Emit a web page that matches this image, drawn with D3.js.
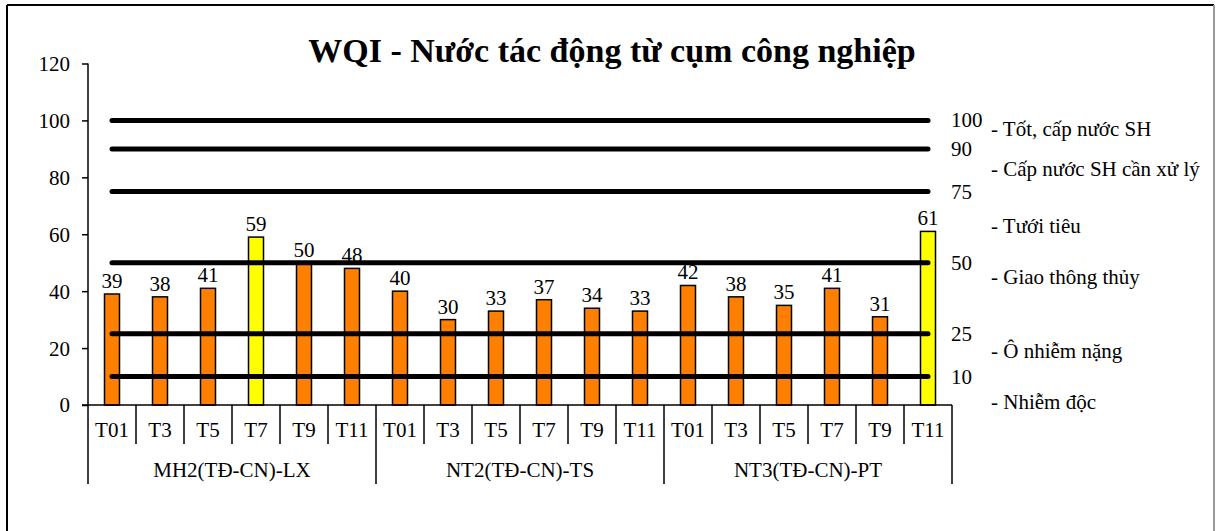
<!doctype html>
<html>
<head>
    <meta charset="utf-8">
    <title>WQI</title>
    <script src="https://d3js.org/d3.v7.min.js"></script>
    <style>
        body { margin: 0; background: #fff; }
        svg text { font-family: "Liberation Serif", "Times New Roman", serif !important; fill: #000; }
    </style>
</head>
<body>
<svg width="1216" height="531"></svg>
<script>

    // data
    var groups = ["MH2(TĐ-CN)-LX", "NT2(TĐ-CN)-TS", "NT3(TĐ-CN)-PT"];
    var months = ["T01", "T3", "T5", "T7", "T9", "T11"];
    var values = [39, 38, 41, 59, 50, 48,
                  40, 30, 33, 37, 34, 33,
                  42, 38, 35, 41, 31, 61];
    var thresholds = [100, 90, 75, 50, 25, 10];
    var classes = ["- Tốt, cấp nước SH", "- Cấp nước SH cần xử lý", "- Tưới tiêu",
                   "- Giao thông thủy", "- Ô nhiễm nặng", "- Nhiễm độc"];
    var classPos = [97, 83, 63, 45, 19, 1];   // value level each class note sits at
    var yTicks = [0, 20, 40, 60, 80, 100, 120];

    var svg = d3.select("svg");
    var fs = "21px";

    // outer frame
    svg.append("line").attr("x1", 7).attr("x2", 1214).attr("y1", 5).attr("y2", 5)
       .attr("stroke", "#000").attr("stroke-width", 2);
    svg.append("line").attr("x1", 7).attr("x2", 7).attr("y1", 5).attr("y2", 531)
       .attr("stroke", "#000").attr("stroke-width", 2);
    svg.append("line").attr("x1", 1214).attr("x2", 1214).attr("y1", 5).attr("y2", 531)
       .attr("stroke", "#999").attr("stroke-width", 2);

    svg.append("text")
       .attr("x", 612)
       .attr("y", 62)
       .attr("text-anchor", "middle")
       .attr("font-weight", "bold")
       .attr("font-size", "34px")
       .text("WQI - Nước tác động từ cụm công nghiệp");

    var cats = d3.range(values.length);
    var xScale = d3.scaleBand().domain(cats).range([88, 952]).padding(0),
        yScale = d3.scaleLinear().domain([0, 120]).range([405, 63.5]);
    var bw = xScale.bandwidth();

    // y axis
    var yAxis = svg.append("g")
       .attr("transform", "translate(88,0)")
       .call(d3.axisLeft(yScale).tickValues(yTicks).tickSize(6).tickPadding(12));
    yAxis.selectAll("path, line").attr("stroke", "#000").attr("stroke-width", 1.5);
    yAxis.select(".domain").attr("d", "M0," + yScale(120) + "V" + yScale(0));
    yAxis.selectAll("text").attr("font-size", fs).attr("dy", "0.33em");

    // bars
    svg.selectAll(".bar")
       .data(values)
       .enter().append("rect")
       .attr("class", "bar")
       .attr("x", function(d, i) { return xScale(i) + bw / 2 - 7.5; })
       .attr("y", function(d) { return yScale(d); })
       .attr("width", 15)
       .attr("height", function(d) { return yScale(0) - yScale(d); })
       .attr("fill", function(d) { return d > 50 ? "#ffff00" : "#ff8000"; })
       .attr("stroke", "#000")
       .attr("stroke-width", 1.5);

    svg.selectAll(".val")
       .data(values)
       .enter().append("text")
       .attr("class", "val")
       .attr("x", function(d, i) { return xScale(i) + bw / 2; })
       .attr("y", function(d) { return yScale(d) - 6; })
       .attr("text-anchor", "middle")
       .attr("font-size", fs)
       .text(function(d) { return d; });

    // threshold lines
    var line = d3.line()
       .x(function(d) { return xScale(d) + bw / 2; });
    thresholds.forEach(function(t) {
        svg.append("path")
           .datum([0, values.length - 1])
           .attr("d", line.y(function() { return yScale(t); }))
           .attr("fill", "none")
           .attr("stroke", "#000")
           .attr("stroke-width", 5)
           .attr("stroke-linecap", "round");
    });

    svg.selectAll(".thr")
       .data(thresholds)
       .enter().append("text")
       .attr("class", "thr")
       .attr("x", 951)
       .attr("y", function(d) { return yScale(d) + 7; })
       .attr("font-size", fs)
       .text(function(d) { return d; });

    svg.selectAll(".cls")
       .data(classes)
       .enter().append("text")
       .attr("class", "cls")
       .attr("x", 991)
       .attr("y", function(d, i) { return yScale(classPos[i]) + 7; })
       .attr("font-size", fs)
       .text(function(d) { return d; });

    // category axis
    var x0 = 88, base = yScale(0);
    svg.append("line").attr("x1", 82).attr("x2", 952).attr("y1", base).attr("y2", base)
       .attr("stroke", "#000").attr("stroke-width", 1.5);
    var edges = d3.range(values.length + 1);
    svg.selectAll(".sep")
       .data(edges)
       .enter().append("line")
       .attr("class", "sep")
       .attr("x1", function(d) { return x0 + d * bw; })
       .attr("x2", function(d) { return x0 + d * bw; })
       .attr("y1", base)
       .attr("y2", function(d) { return d % months.length === 0 ? 484 : 444; })
       .attr("stroke", "#000")
       .attr("stroke-width", 1.5);

    svg.selectAll(".mon")
       .data(cats)
       .enter().append("text")
       .attr("class", "mon")
       .attr("x", function(d) { return xScale(d) + bw / 2; })
       .attr("y", 437)
       .attr("text-anchor", "middle")
       .attr("font-size", fs)
       .text(function(d) { return months[d % months.length]; });

    svg.selectAll(".grp")
       .data(groups)
       .enter().append("text")
       .attr("class", "grp")
       .attr("x", function(d, i) { return x0 + (i + 0.5) * months.length * bw; })
       .attr("y", 477)
       .attr("text-anchor", "middle")
       .attr("font-size", fs)
       .text(function(d) { return d; });

</script>
</body>
</html>
